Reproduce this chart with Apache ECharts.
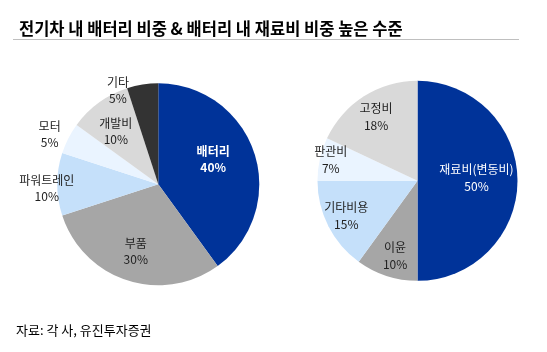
<!DOCTYPE html>
<html>
<head>
<meta charset="utf-8">
<script src="https://cdn.jsdelivr.net/npm/echarts@6/dist/echarts.min.js"></script>
<style>
  html, body { margin: 0; padding: 0; background: #fff; }
  #chart { width: 547px; height: 352px; }
</style>
</head>
<body>
<div id="chart"></div>
<script>
// 전기차 원가 구성
const carParts = ['배터리', '부품', '파워트레인', '모터', '개발비', '기타'];
const carShare = [40, 30, 10, 5, 10, 5];
// 배터리 원가 구성
const batteryParts = ['재료비(변동비)', '이윤', '기타비용', '판관비', '고정비'];
const batteryShare = [50, 10, 15, 7, 18];

const carColors = ['#003399', '#A6A6A6', '#C5E0FA', '#EAF4FF', '#D9D9D9', '#333333'];
const batteryColors = ['#003399', '#A6A6A6', '#C5E0FA', '#EAF4FF', '#D9D9D9'];

// label nudges from the inside position (Excel-like placement)
const carNudge = [[4, -8], [-6, 16], [-58, 4], [-61, -26], [-11, -10], [-32, -41]];
const batteryNudge = [[6, -3], [-6, 25], [-24, 11], [-35, -9], [-13, -19]];

const font = '"Noto Sans CJK KR", "Noto Sans", sans-serif';
const myChart = echarts.init(document.getElementById('chart'));

function pieData(names, values, colors, whiteIdx, bold) {
  return names.map((n, i) => ({
    name: n,
    value: values[i],
    itemStyle: {color: colors[i]},
    label: {
      color: i === whiteIdx ? '#fff' : '#222',
      fontWeight: (bold && i === whiteIdx) ? 'bold' : 'normal'
    }
  }));
}

const option = {
  animation: false,
  title: {
    text: '전기차 내 배터리 비중 & 배터리 내 재료비 비중 높은 수준',
    left: 14, top: 15,
    textStyle: {fontFamily: font, fontSize: 16.5, fontWeight: 'bold', color: '#000'}
  },
  graphic: [
    {type: 'line', shape: {x1: 13, y1: 39.5, x2: 519, y2: 39.5}, style: {stroke: '#BFBFBF', lineWidth: 1}},
    {type: 'text', left: 16, top: 324, style: {text: '자료: 각 사, 유진투자증권', font: '13px ' + font, fill: '#000'}}
  ],
  series: [
    {
      type: 'pie',
      center: [158.3, 184.3],
      radius: [0, 101],
      startAngle: 90,
      clockwise: true,
      data: pieData(carParts, carShare, carColors, 0, true),
      label: {
        position: 'inside',
        formatter: '{b}\n{c}%',
        fontFamily: font,
        fontSize: 12,
        lineHeight: 16
      },
      labelLine: {show: false},
      labelLayout: p => ({dx: carNudge[p.dataIndex][0], dy: carNudge[p.dataIndex][1]})
    },
    {
      type: 'pie',
      center: [417.5, 180.8],
      radius: [0, 100],
      startAngle: 90,
      clockwise: true,
      data: pieData(batteryParts, batteryShare, batteryColors, 0, false),
      label: {
        position: 'inside',
        formatter: '{b}\n{c}%',
        fontFamily: font,
        fontSize: 12,
        lineHeight: 17
      },
      labelLine: {show: false},
      labelLayout: p => ({dx: batteryNudge[p.dataIndex][0], dy: batteryNudge[p.dataIndex][1]})
    }
  ]
};

myChart.setOption(option);
</script>
</body>
</html>
